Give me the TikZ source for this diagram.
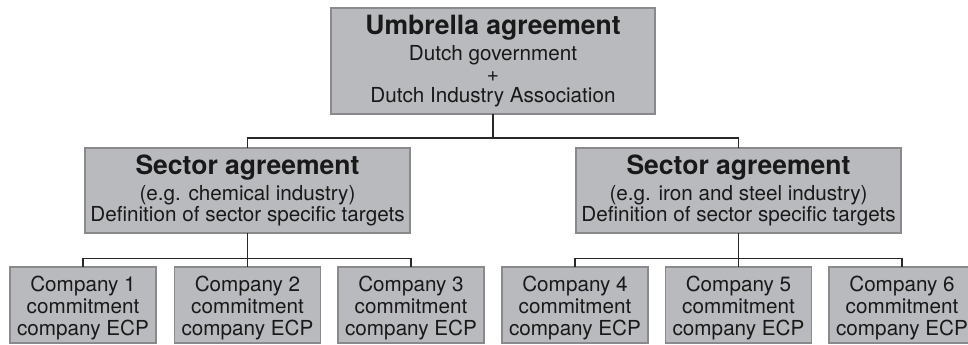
\documentclass[tikz,border=0pt]{standalone}
\usepackage{fontspec}
\setmainfont{TeX Gyre Heros}
\usepackage{tikz}
\usepackage{xcolor}

\definecolor{boxfill}{RGB}{185,186,189}
\definecolor{boxline}{RGB}{138,138,140}
\definecolor{linkline}{RGB}{40,40,40}

\newcommand{\titlefont}{\fontsize{19.9}{21}\selectfont\bfseries}
\newcommand{\company}[1]{\raisebox{-3pt}[\height][\depth]{\begin{tabular}{@{}c@{}}Company #1\\commitment\\company ECP\end{tabular}}}

\begin{document}
\begin{tikzpicture}[x=0.75pt,y=0.75pt,yscale=-1,xscale=1,
  gbox/.style={draw=boxline,line width=1.1pt,fill=boxfill,align=center,inner sep=0pt,outer sep=0pt,
    font=\fontsize{15.5}{15.5}\selectfont,text=black!90},
  umbrellabox/.style={gbox,minimum width=243pt,minimum height=79.5pt},
  sectorbox/.style={gbox,minimum width=243.75pt,minimum height=63.75pt},
  companybox/.style={gbox,minimum width=109.5pt,minimum height=57pt,font=\fontsize{15.5}{16.5}\selectfont},
  link/.style={draw=linkline,line width=1.1pt}]
\useasboundingbox (0,0) rectangle (968,345);

%Umbrella box
\node [umbrellabox] (umbrella) at (493,61) {{\titlefont Umbrella agreement}\\[3pt]Dutch government\\+\\Dutch Industry Association};

%Sector boxes
\node [sectorbox] (sectorL) at (247.5,190.5) {{\titlefont Sector agreement}\\[3pt](e.g. chemical industry)\\Definition of sector specific targets};
\node [sectorbox] (sectorR) at (738.5,190.5) {{\titlefont Sector agreement}\\[3pt](e.g. iron and steel industry)\\Definition of sector specific targets};

%Company boxes
\node [companybox] (c1) at (83,305) {\company{1}};
\node [companybox] (c2) at (247.5,305) {\company{2}};
\node [companybox] (c3) at (411,305) {\company{3}};
\node [companybox] (c4) at (575,305) {\company{4}};
\node [companybox] (c5) at (738.5,305) {\company{5}};
\node [companybox] (c6) at (902,305) {\company{6}};

%Links umbrella -> sectors
\coordinate (jtop) at ([yshift=18]umbrella.south);
\draw [link] (umbrella.south) -- (jtop);
\draw [link] (sectorL.north) |- (jtop) -| (sectorR.north);

%Links sectors -> companies
\coordinate (jleft) at ([yshift=19]sectorL.south);
\draw [link] (sectorL.south) -- (c2.north);
\draw [link] (c1.north) |- (jleft) -| (c3.north);
\coordinate (jright) at ([yshift=19]sectorR.south);
\draw [link] (sectorR.south) -- (c5.north);
\draw [link] (c4.north) |- (jright) -| (c6.north);

\end{tikzpicture}
\end{document}
